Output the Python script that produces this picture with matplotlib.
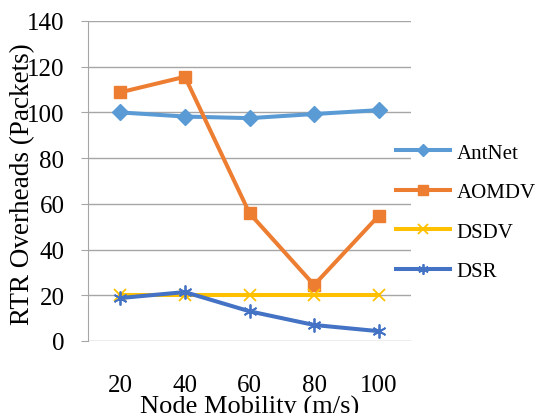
import matplotlib.pyplot as plt

plt.rcParams['font.family'] = ['Liberation Serif', 'DejaVu Serif']

mobility = ['20', '40', '60', '80', '100']
antnet = [100, 98.2, 97.5, 99.3, 101]
aomdv = [108.8, 115.6, 55.9, 24.5, 54.8]
dsdv = [20, 20, 20, 20, 20]
dsr = [18.8, 21.4, 13, 7, 4.3]

fig = plt.figure(figsize=(5.37, 4.14), dpi=100)
ax = fig.add_axes([88 / 537, 72 / 414, 323 / 537, 320 / 414])

x = range(len(mobility))
ax.plot(x, antnet, color='#5B9BD5', lw=2.9, marker='D', ms=8, label='AntNet')
ax.plot(x, aomdv, color='#ED7D31', lw=2.9, marker='s', ms=9, label='AOMDV')
ax.plot(x, dsdv, color='#FFC000', lw=2.9, marker='x', ms=9, mew=1.3, label='DSDV')
ax.plot(x, dsr, color='#4472C4', lw=2.9, marker=(6, 2, 0), ms=10, mew=1.3, label='DSR')

ax.set_xlim(-0.5, 4.5)
ax.set_ylim(0, 140)
ax.set_yticks(range(0, 141, 20))
ax.set_xticks(list(x))
ax.set_xticklabels(mobility)
ax.yaxis.grid(True, color='#A6A6A6', lw=1)
ax.set_axisbelow(True)
for s in ['top', 'right', 'bottom']:
    ax.spines[s].set_visible(False)
ax.spines['left'].set_color('#A6A6A6')
ax.tick_params(axis='y', length=5, color='#A6A6A6', labelsize=18, pad=12)
ax.tick_params(axis='x', length=0, labelsize=18, pad=24)

ax.set_ylabel('RTR Overheads (Packets)', fontsize=19.5)
ax.yaxis.set_label_coords(-0.163, 0.494)
ax.set_xlabel('Node Mobility (m/s)', fontsize=19)
ax.xaxis.set_label_coords(0.5, -0.167)

fig.legend(loc='upper left', bbox_to_anchor=(396 / 537, 1 - 144 / 414), frameon=False,
           fontsize=15, handlelength=2.6, labelspacing=0.96, handletextpad=0.3,
           borderpad=0, borderaxespad=0, markerscale=0.75)

fig.savefig('out.png', dpi=100)
